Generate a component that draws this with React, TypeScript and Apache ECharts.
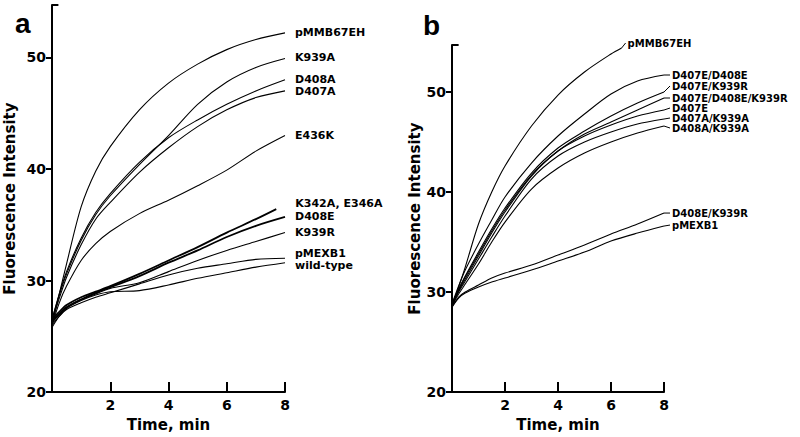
import React, { useEffect, useRef } from 'react';
import * as echarts from 'echarts';

// ---------- data ----------
const timesA = [0, 0.25, 0.5, 1, 1.5, 2, 3, 4, 5, 6, 7, 8];
const timesAShort = [0, 0.25, 0.5, 1, 1.5, 2, 3, 4, 5, 6, 7, 7.7];
const timesB = [0, 0.25, 0.5, 1, 1.5, 2, 3, 4, 5, 6, 7, 8];
const timesBShort = [0, 0.25, 0.5, 1, 1.5, 2, 3, 4, 5, 6, 6.4];

const a_pMMB67EH = [26.0, 28.8, 31.5, 36.6, 39.8, 42.0, 45.3, 47.7, 49.4, 50.7, 51.6, 52.2];
const a_K939A = [26.5, 28.7, 30.6, 33.6, 35.9, 37.6, 40.4, 43.0, 45.8, 47.8, 49.1, 49.9];
const a_D408A = [26.5, 28.8, 30.8, 33.8, 36.1, 37.8, 40.6, 42.8, 44.4, 45.8, 47.0, 48.0];
const a_D407A = [26.3, 28.4, 30.3, 33.2, 35.5, 37.0, 39.7, 41.9, 43.8, 45.3, 46.4, 47.0];
const a_E436K = [26.0, 28.0, 29.5, 31.8, 33.3, 34.4, 36.0, 37.2, 38.5, 39.9, 41.6, 43.0];
const a_K342A_E346A = [26.5, 27.2, 27.8, 28.5, 29.0, 29.5, 30.6, 31.8, 33.0, 34.3, 35.5, 36.4];
const a_D408E = [26.3, 27.0, 27.6, 28.3, 28.9, 29.4, 30.4, 31.6, 32.7, 33.9, 34.9, 35.7];
const a_K939R = [26.2, 27.0, 27.6, 28.3, 28.8, 29.3, 29.8, 30.8, 31.8, 32.7, 33.5, 34.3];
const a_pMEXB1 = [26.0, 26.8, 27.4, 28.0, 28.5, 28.9, 29.7, 30.5, 31.1, 31.5, 31.9, 32.0];
const a_wildType = [25.8, 26.8, 27.5, 28.2, 28.7, 29.0, 29.1, 29.6, 30.2, 30.7, 31.2, 31.6];

const b_pMMB67EH = [28.5, 30.5, 32.5, 36.8, 40.0, 42.6, 46.6, 49.7, 52.0, 53.8, 54.4];
const b_D407E_D408E = [28.8, 30.6, 32.2, 34.8, 37.2, 39.5, 42.9, 45.6, 47.8, 49.8, 51.1, 51.7];
const b_D407E_K939R = [28.8, 30.3, 31.6, 34.0, 36.3, 38.4, 41.9, 44.4, 46.1, 47.6, 48.9, 50.0];
const b_D407E_D408E_K939R = [28.8, 30.2, 31.5, 33.8, 36.1, 38.2, 41.7, 44.1, 45.8, 47.0, 48.2, 49.4];
const b_D407E = [28.7, 30.1, 31.3, 33.6, 35.9, 38.0, 41.6, 44.1, 45.6, 46.7, 47.6, 48.2];
const b_D407A_K939A = [28.7, 30.0, 31.1, 33.3, 35.5, 37.6, 41.3, 43.6, 45.0, 46.0, 46.8, 47.3];
const b_D408A_K939A = [28.6, 29.8, 30.8, 32.8, 35.0, 37.0, 40.3, 42.4, 43.9, 45.0, 45.9, 46.6];
const b_D408E_K939R = [28.5, 29.5, 30.0, 30.7, 31.4, 31.9, 32.7, 33.7, 34.7, 35.8, 36.8, 37.9];
const b_pMEXB1 = [28.5, 29.4, 29.9, 30.5, 31.0, 31.4, 32.2, 33.1, 34.0, 35.1, 35.9, 36.6];

const yTicks = [20, 30, 40, 50];
const yMax = 54.7;

type S = { name: string; t: number[]; v: number[] };

const seriesA: S[] = [
  { name: 'pMMB67EH', t: timesA, v: a_pMMB67EH },
  { name: 'K939A', t: timesA, v: a_K939A },
  { name: 'D408A', t: timesA, v: a_D408A },
  { name: 'D407A', t: timesA, v: a_D407A },
  { name: 'E436K', t: timesA, v: a_E436K },
  { name: 'K342A, E346A', t: timesAShort, v: a_K342A_E346A },
  { name: 'D408E', t: timesA, v: a_D408E },
  { name: 'K939R', t: timesA, v: a_K939R },
  { name: 'pMEXB1', t: timesA, v: a_pMEXB1 },
  { name: 'wild-type', t: timesA, v: a_wildType },
];

const seriesB: S[] = [
  { name: 'pMMB67EH', t: timesBShort, v: b_pMMB67EH },
  { name: 'D407E/D408E', t: timesB, v: b_D407E_D408E },
  { name: 'D407E/K939R', t: timesB, v: b_D407E_K939R },
  { name: 'D407E/D408E/K939R', t: timesB, v: b_D407E_D408E_K939R },
  { name: 'D407E', t: timesB, v: b_D407E },
  { name: 'D407A/K939A', t: timesB, v: b_D407A_K939A },
  { name: 'D408A/K939A', t: timesB, v: b_D408A_K939A },
  { name: 'D408E/K939R', t: timesB, v: b_D408E_K939R },
  { name: 'pMEXB1', t: timesB, v: b_pMEXB1 },
];

// ---------- layout / style ----------
const FONT = '"DejaVu Sans", Verdana, sans-serif';
// label placement: [distance, dy] in px
const labelPlaceA: Record<string, [number, number]> = {
  'pMMB67EH': [10, 0],
  'K939A': [10, -1],
  'D408A': [10, 0],
  'D407A': [10, 1],
  'E436K': [10, 0],
  'K342A, E346A': [19, -6],
  'D408E': [10, 0],
  'K939R': [10, 0],
  'pMEXB1': [10, -5],
  'wild-type': [10, 3],
};
const labelPlaceB: Record<string, [number, number]> = {
  'pMMB67EH': [6, -5],
  'D407E/D408E': [8, 0],
  'D407E/K939R': [8, -6],
  'D407E/D408E/K939R': [8, 0],
  'D407E': [8, -2],
  'D407A/K939A': [8, -1],
  'D408A/K939A': [8, 2],
  'D408E/K939R': [8, 0],
  'pMEXB1': [8, -1],
};
const thickA = new Set(['K342A, E346A', 'D408E']);
// short inward tick at the top end of each y axis (length in minutes)
const topTickLen = [0.22, 0.25];

function buildSeries(list: S[], grid: number, place: Record<string, [number, number]>, thick: Set<string>, fontSize: number) {
  return list.map((s, idx) => {
    const [dist, dy] = place[s.name] || [8, 0];
    const ser: any = {
      type: 'line',
      name: s.name,
      xAxisIndex: grid,
      yAxisIndex: grid,
      data: s.t.map((t, i) => [t, s.v[i]]),
      showSymbol: false,
      smooth: 0.3,
      silent: true,
      lineStyle: { color: '#000', width: thick.has(s.name) ? 1.8 : 1.1 },
      endLabel: {
        show: true,
        formatter: s.name,
        distance: dist,
        offset: [0, dy],
        fontFamily: FONT,
        fontWeight: 'bold',
        fontSize,
        lineHeight: fontSize,
        color: '#000',
      },
    };
    if (idx === 0) {
      ser.markLine = {
        silent: true,
        symbol: 'none',
        label: { show: false },
        lineStyle: { color: '#000', width: 2, type: 'solid' },
        data: [[{ coord: [0, yMax] }, { coord: [topTickLen[grid], yMax] }]],
      };
    }
    return ser;
  });
}

function xAxis(grid: number) {
  return {
    type: 'value',
    gridIndex: grid,
    min: 0,
    max: 8,
    interval: 2,
    axisLine: { show: true, onZero: false, lineStyle: { color: '#000', width: 2 } },
    axisTick: { show: true, inside: true, length: 10, lineStyle: { color: '#000', width: 2 } },
    axisLabel: {
      formatter: (v: number) => (v === 0 ? '' : String(v)),
      fontFamily: FONT,
      fontWeight: 'bold',
      fontSize: 14,
      color: '#000',
      margin: 6,
      showMinLabel: true,
      showMaxLabel: true,
    },
    splitLine: { show: false },
    name: 'Time, min',
    nameLocation: 'middle',
    nameGap: 22,
    nameTextStyle: { fontFamily: FONT, fontWeight: 'bold', fontSize: 15, color: '#000' },
  };
}

function yAxis(grid: number, nameGap: number) {
  return {
    type: 'value',
    gridIndex: grid,
    position: 'left',
    min: 20,
    max: yMax,
    interval: 10,
    axisLine: { show: true, onZero: false, lineStyle: { color: '#000', width: 2 } },
    axisTick: { show: true, length: 6, customValues: yTicks, lineStyle: { color: '#000', width: 2 } },
    axisLabel: {
      customValues: yTicks,
      formatter: (v: number) => (yTicks.includes(Math.round(v * 10) / 10) ? String(v) : ''),
      fontFamily: FONT,
      fontWeight: 'bold',
      fontSize: 14,
      color: '#000',
      margin: 6,
    },
    splitLine: { show: false },
    name: 'Fluorescence Intensity',
    nameLocation: 'middle',
    nameGap,
    nameTextStyle: { fontFamily: FONT, fontWeight: 'bold', fontSize: 15, color: '#000' },
  };
}

export default function App() {
  const ref = useRef<HTMLDivElement>(null);
  useEffect(() => {
    if (!ref.current) return;
    const chart = echarts.init(ref.current, undefined, { renderer: 'svg' });
    const option: any = {
      animation: false,
      backgroundColor: '#fff',
      title: [
        { text: 'a', left: 10, top: 4, textStyle: { fontFamily: '"Liberation Sans", Arial, sans-serif', fontWeight: 'bold', fontSize: 28, color: '#000' } },
        { text: 'b', left: 418, top: 6, textStyle: { fontFamily: '"Liberation Sans", Arial, sans-serif', fontWeight: 'bold', fontSize: 28, color: '#000' } },
      ],
      grid: [
        { left: 52, top: 5, width: 233, height: 390 },
        { left: 452, top: 45, width: 212, height: 351 },
      ],
      xAxis: [xAxis(0), xAxis(1)],
      yAxis: [yAxis(0, 35), yAxis(1, 28)],
      series: [
        ...buildSeries(seriesA, 0, labelPlaceA, thickA, 11),
        ...buildSeries(seriesB, 1, labelPlaceB, new Set(), 10),
      ],
    };
    chart.setOption(option);

    // leader lines from curve ends to labels in panel b
    const leaders: any[] = [];
    seriesB.forEach((s) => {
      const [dist, dy] = labelPlaceB[s.name];
      const last = s.t.length - 1;
      const p = chart.convertToPixel({ xAxisIndex: 1, yAxisIndex: 1 }, [s.t[last], s.v[last]]) as number[];
      if (!p) return;
      leaders.push({
        type: 'line',
        silent: true,
        shape: { x1: p[0], y1: p[1], x2: p[0] + dist - 2, y2: p[1] + dy },
        style: { stroke: '#000', lineWidth: 1 },
      });
    });
    chart.setOption({ graphic: leaders });

    return () => chart.dispose();
  }, []);
  return <div ref={ref} style={{ position: 'fixed', left: 0, top: 0, width: 800, height: 437 }} />;
}
